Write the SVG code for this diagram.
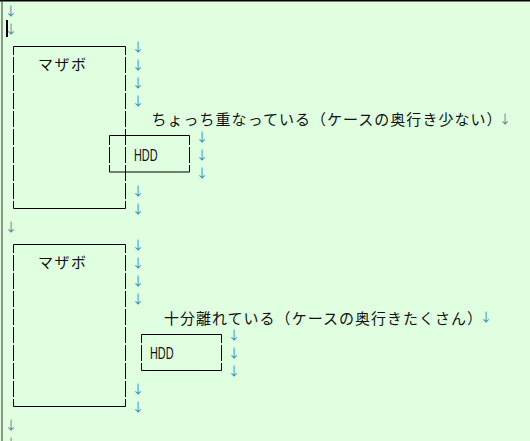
<svg xmlns="http://www.w3.org/2000/svg" width="530" height="441" viewBox="0 0 530 441">
<style>
.box{fill:none;stroke:#000;stroke-width:1}
.v{fill:none;stroke:#000;stroke-width:1;stroke-dasharray:16 2}
.jp{font-family:"Noto Sans CJK JP","Noto Sans CJK SC",sans-serif;font-size:15px;fill:#111}
.en{font-family:"Liberation Sans",Arial,sans-serif;font-size:16px;fill:#111}
.nl{font-family:"Noto Sans CJK JP","DejaVu Sans",sans-serif;font-size:12.5px;fill:#3f86a8;text-anchor:middle}
</style>
<rect x="0" y="0" width="530" height="441" fill="#E0FFE0"/>
<line x1="0" y1="0.7" x2="530" y2="0.7" stroke="#000" stroke-width="1.4"/>
<line x1="2" y1="0" x2="2" y2="441" stroke="#333" stroke-width="1"/>
<rect x="6" y="20" width="2" height="17" fill="#000"/>

<g id="board1">
  <line class="box" x1="13.5" y1="46.5" x2="125.5" y2="46.5"/>
  <line class="box" x1="13.5" y1="208.5" x2="125.5" y2="208.5"/>
  <line class="v" x1="13.5" y1="46.5" x2="13.5" y2="208.5" stroke-dashoffset="7.5"/>
  <line class="v" x1="125.5" y1="46.5" x2="125.5" y2="208.5" stroke-dashoffset="7.5"/>
  <text class="jp" x="38" y="70" textLength="48">マザボ</text>
</g>
<g id="hdd1">
  <line class="box" x1="109.5" y1="135.5" x2="189.5" y2="135.5"/>
  <line class="box" x1="109.5" y1="172" x2="189.5" y2="172"/>
  <line class="v" x1="109.5" y1="135.5" x2="109.5" y2="172" stroke-dashoffset="6.5"/>
  <line class="v" x1="189.5" y1="135.5" x2="189.5" y2="172" stroke-dashoffset="6.5"/>
  <text class="en" x="134" y="160.5" textLength="23.5" lengthAdjust="spacingAndGlyphs">HDD</text>
</g>
<g id="label1">
  <text class="jp" x="151.5" y="124.5"><tspan textLength="350">ちょっち重なっている（ケースの奥行き少ない）</tspan><tspan class="nl" x="505" y="123.5">↓</tspan></text>
</g>

<g id="board2">
  <line class="box" x1="13.5" y1="244.5" x2="125.5" y2="244.5"/>
  <line class="box" x1="13.5" y1="406.5" x2="125.5" y2="406.5"/>
  <line class="v" x1="13.5" y1="244.5" x2="13.5" y2="406.5" stroke-dashoffset="7.5"/>
  <line class="v" x1="125.5" y1="244.5" x2="125.5" y2="406.5" stroke-dashoffset="7.5"/>
  <text class="jp" x="38" y="268" textLength="48">マザボ</text>
</g>
<g id="hdd2">
  <line class="box" x1="141.5" y1="334.5" x2="221.5" y2="334.5"/>
  <line class="box" x1="141.5" y1="370.5" x2="221.5" y2="370.5"/>
  <line class="v" x1="141.5" y1="334.5" x2="141.5" y2="370.5" stroke-dashoffset="7.5"/>
  <line class="v" x1="221.5" y1="334.5" x2="221.5" y2="370.5" stroke-dashoffset="7.5"/>
  <text class="en" x="150" y="358.5" textLength="23.5" lengthAdjust="spacingAndGlyphs">HDD</text>
</g>
<g id="label2">
  <text class="jp" x="164" y="323.5"><tspan textLength="318">十分離れている（ケースの奥行きたくさん）</tspan><tspan class="nl" x="486" y="321.5">↓</tspan></text>
</g>

<g id="connectors"></g>

<g id="line-ends">
  <text class="nl" x="10.7" y="15.5">↓</text>
  <text class="nl" x="11" y="33.5">↓</text>
  <text class="nl" x="138" y="51.5">↓</text>
  <text class="nl" x="138" y="69.5">↓</text>
  <text class="nl" x="138" y="87.5">↓</text>
  <text class="nl" x="138" y="105.5">↓</text>
  <text class="nl" x="202" y="141.5">↓</text>
  <text class="nl" x="202" y="159.5">↓</text>
  <text class="nl" x="202" y="177.5">↓</text>
  <text class="nl" x="138" y="195.5">↓</text>
  <text class="nl" x="138" y="213.5">↓</text>
  <text class="nl" x="11" y="231.5">↓</text>
  <text class="nl" x="138" y="249.5">↓</text>
  <text class="nl" x="138" y="267.5">↓</text>
  <text class="nl" x="138" y="285.5">↓</text>
  <text class="nl" x="138" y="303.5">↓</text>
  <text class="nl" x="234" y="340">↓</text>
  <text class="nl" x="234" y="358">↓</text>
  <text class="nl" x="234" y="376">↓</text>
  <text class="nl" x="138" y="393.5">↓</text>
  <text class="nl" x="138" y="411.5">↓</text>
  <text class="nl" x="11" y="429.5">↓</text>
  <text class="nl" x="11" y="447.5">↓</text>
</g>
</svg>
